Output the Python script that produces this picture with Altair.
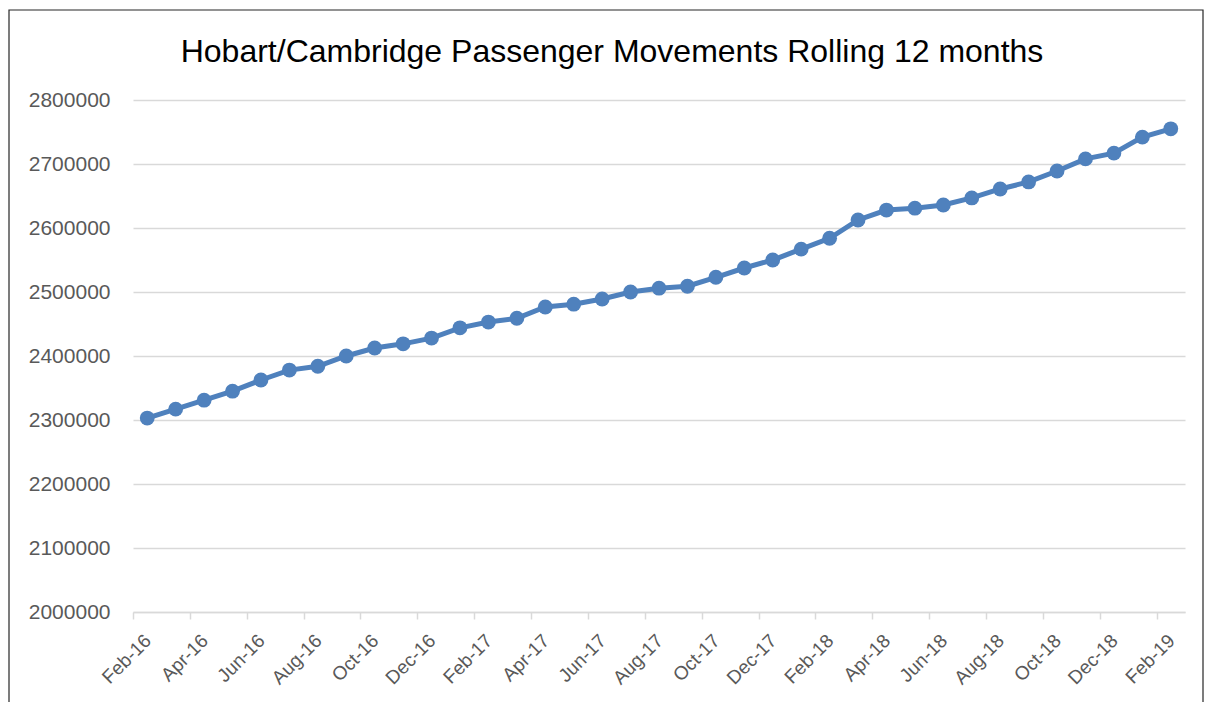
import altair as alt
import pandas as pd

months = [
    "Feb-16", "Mar-16", "Apr-16", "May-16", "Jun-16", "Jul-16", "Aug-16", "Sep-16",
    "Oct-16", "Nov-16", "Dec-16", "Jan-17", "Feb-17", "Mar-17", "Apr-17", "May-17",
    "Jun-17", "Jul-17", "Aug-17", "Sep-17", "Oct-17", "Nov-17", "Dec-17", "Jan-18",
    "Feb-18", "Mar-18", "Apr-18", "May-18", "Jun-18", "Jul-18", "Aug-18", "Sep-18",
    "Oct-18", "Nov-18", "Dec-18", "Jan-19", "Feb-19",
]
passengers = [
    2303000, 2317000, 2331000, 2345000, 2362500, 2378000, 2384000, 2400000,
    2412500, 2419000, 2428000, 2444000, 2453000, 2459000, 2476500, 2481000,
    2489000, 2500000, 2506000, 2509000, 2523000, 2537500, 2550000, 2567000,
    2584000, 2612500, 2628000, 2631000, 2636000, 2647000, 2661000, 2672000,
    2689000, 2708000, 2717000, 2742000, 2755000,
]
label_months = months[::2]
y_ticks = [2000000, 2100000, 2200000, 2300000, 2400000, 2500000, 2600000, 2700000, 2800000]
title_text = ["Hobart/Cambridge Passenger Movements Rolling 12 months"]

df = pd.DataFrame({"month": months, "passengers": passengers})

LINE_COLOR = "#4F81BD"
PLOT_W = 1052
HALF_BAND = PLOT_W / len(months) / 2

x_enc = alt.X(
    "month:N",
    sort=months,
    bandPosition=0.5,
    scale=alt.Scale(type="band", paddingInner=0, paddingOuter=0),
    axis=alt.Axis(
        values=label_months,
        labelAngle=-45,
        labelFont="Liberation Sans",
        labelFontSize=19,
        labelColor="#595959",
        labelPadding=12,
        tickOffset=-HALF_BAND,
        labelOffset=HALF_BAND - 6,
        tickColor="#d9d9d9",
        tickWidth=1.5,
        tickSize=7,
        domainColor="#d9d9d9",
        domainWidth=1.5,
        grid=False,
        title=None,
    ),
)
y_enc = alt.Y(
    "passengers:Q",
    scale=alt.Scale(domain=[2000000, 2800000], nice=False, zero=False),
    axis=alt.Axis(
        values=y_ticks,
        format="d",
        labelFont="Liberation Sans",
        labelFontSize=21,
        labelColor="#595959",
        labelPadding=23,
        ticks=False,
        domain=False,
        grid=True,
        gridColor="#d9d9d9",
        gridWidth=1.5,
        title=None,
    ),
)

base = alt.Chart(df)
line = base.mark_line(color=LINE_COLOR, strokeWidth=5).encode(x=x_enc, y=y_enc)
pts = base.mark_point(filled=True, color=LINE_COLOR, size=220, opacity=1).encode(x=x_enc, y=y_enc)

one = pd.DataFrame({"t": title_text})
border = alt.Chart(one).mark_rect(
    fill=None, stroke="#262626", strokeWidth=1.2
).encode(
    x=alt.value(-124), x2=alt.value(1070), y=alt.value(-90), y2=alt.value(640)
)
title = alt.Chart(one).mark_text(
    font="Liberation Sans", fontSize=32, color="#000000", align="center", baseline="alphabetic"
).encode(x=alt.value(479), y=alt.value(-38), text="t:N")

chart = alt.layer(border, line, pts, title).properties(
    width=PLOT_W,
    height=512,
    autosize=alt.AutoSizeParams(type="none"),
    padding={"left": 125, "top": 92, "right": 19, "bottom": 90},
).configure_view(stroke=None)

chart.save("out.html", embed_options={"renderer": "svg", "actions": False})
